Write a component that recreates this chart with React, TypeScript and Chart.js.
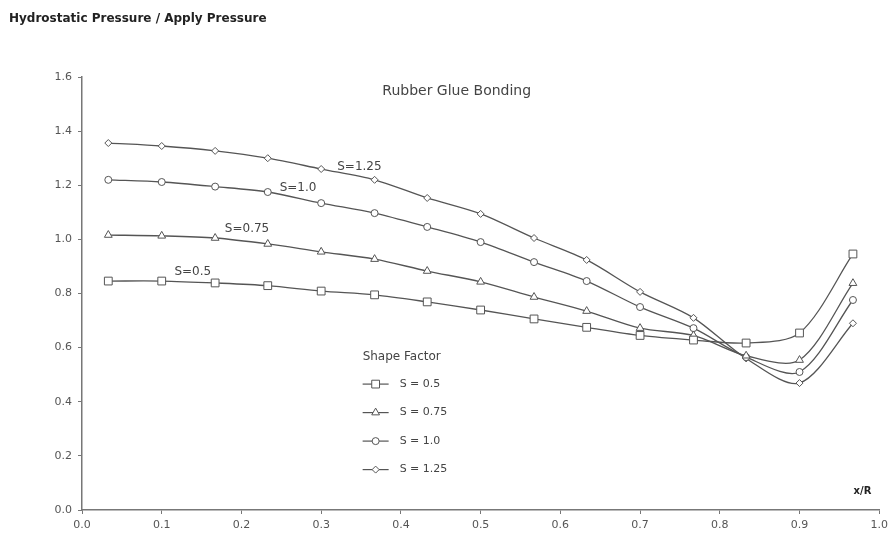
import React, { useEffect, useRef } from 'react';
import { Chart, registerables } from 'chart.js';

Chart.register(...registerables);

// ---- data ----
const xValues = [0.033, 0.1, 0.167, 0.233, 0.3, 0.367, 0.433, 0.5, 0.567, 0.633, 0.7, 0.767, 0.833, 0.9, 0.967];
const s05 = [0.846, 0.846, 0.839, 0.829, 0.809, 0.795, 0.769, 0.739, 0.706, 0.675, 0.645, 0.628, 0.617, 0.654, 0.946];
const s075 = [1.016, 1.013, 1.005, 0.983, 0.954, 0.927, 0.883, 0.843, 0.787, 0.735, 0.672, 0.645, 0.57, 0.554, 0.838];
const s10 = [1.22, 1.212, 1.195, 1.175, 1.134, 1.097, 1.046, 0.99, 0.916, 0.846, 0.75, 0.672, 0.565, 0.51, 0.776];
const s125 = [1.356, 1.345, 1.327, 1.3, 1.26, 1.22, 1.153, 1.094, 1.005, 0.924, 0.806, 0.71, 0.56, 0.469, 0.69];

const legendLabels = ['S = 0.5', 'S = 0.75', 'S = 1.0', 'S = 1.25'];
const curveLabels = ['S=0.5', 'S=0.75', 'S=1.0', 'S=1.25'];
const chartTitle = 'Hydrostatic Pressure / Apply Pressure';
const subTitle = 'Rubber Glue Bonding';
const legendTitle = 'Shape Factor';
const xAxisLabel = 'x/R';

// ---- layout / style (not data) ----
const curveLabelPos = [
  [0.139, 0.88],
  [0.207, 1.038],
  [0.271, 1.19],
  [0.348, 1.268],
];
const pointStyles = ['rect', 'triangle', 'circle', 'rectRot'];
const pointRadii = [5.5, 4.5, 3.5, 3.5];
const LINE = '#555555';
const TEXT = '#444444';
const FONT = '"DejaVu Sans", Verdana, sans-serif';

function toPoints(ys: number[]) {
  return xValues.map((x, i) => ({ x, y: ys[i] }));
}

function drawMarker(ctx: CanvasRenderingContext2D, style: string, x: number, y: number, r: number) {
  ctx.beginPath();
  if (style === 'rect') {
    const s = Math.SQRT1_2 * r;
    ctx.rect(x - s, y - s, 2 * s, 2 * s);
  } else if (style === 'triangle') {
    ctx.moveTo(x, y - r);
    ctx.lineTo(x + r * 0.866, y + r * 0.5);
    ctx.lineTo(x - r * 0.866, y + r * 0.5);
    ctx.closePath();
  } else if (style === 'rectRot') {
    ctx.moveTo(x, y - r);
    ctx.lineTo(x + r, y);
    ctx.lineTo(x, y + r);
    ctx.lineTo(x - r, y);
    ctx.closePath();
  } else {
    ctx.arc(x, y, r, 0, Math.PI * 2);
  }
  ctx.fillStyle = '#ffffff';
  ctx.fill();
  ctx.strokeStyle = LINE;
  ctx.lineWidth = 1;
  ctx.stroke();
}

const textPlugin = {
  id: 'textPlugin',
  afterDraw(chart: any) {
    const ctx: CanvasRenderingContext2D = chart.ctx;
    const xs = chart.scales.x;
    const ys = chart.scales.y;
    ctx.save();
    // main title
    ctx.fillStyle = '#222';
    ctx.font = `bold 12px ${FONT}`;
    ctx.textAlign = 'left';
    ctx.textBaseline = 'middle';
    ctx.fillText(chartTitle, 9, 19);

    // subtitle
    ctx.fillStyle = TEXT;
    ctx.font = `14px ${FONT}`;
    ctx.textAlign = 'center';
    ctx.fillText(subTitle, xs.getPixelForValue(0.47), ys.getPixelForValue(1.548));

    // curve labels
    ctx.font = `12px ${FONT}`;
    curveLabels.forEach((t, i) => {
      ctx.fillText(t, xs.getPixelForValue(curveLabelPos[i][0]), ys.getPixelForValue(curveLabelPos[i][1]));
    });

    // x axis label
    ctx.font = `bold 10px ${FONT}`;
    ctx.fillStyle = '#222';
    ctx.fillText(xAxisLabel, xs.getPixelForValue(0.979), ys.getPixelForValue(0.067));

    // legend
    const lx = xs.getPixelForValue(0.352);
    const ly = ys.getPixelForValue(0.565);
    ctx.fillStyle = TEXT;
    ctx.font = `12px ${FONT}`;
    ctx.textAlign = 'left';
    ctx.fillText(legendTitle, lx, ly);
    legendLabels.forEach((t, i) => {
      const ry = ly + 27 + i * 28.5;
      ctx.beginPath();
      ctx.moveTo(lx, ry);
      ctx.lineTo(lx + 26, ry);
      ctx.strokeStyle = LINE;
      ctx.lineWidth = 1.2;
      ctx.stroke();
      drawMarker(ctx, pointStyles[i], lx + 13, ry, pointRadii[i]);
      ctx.fillStyle = TEXT;
      ctx.font = `11px ${FONT}`;
      ctx.fillText(t, lx + 37, ry);
    });
    ctx.restore();
  },
};

export default function App() {
  const ref = useRef<HTMLCanvasElement | null>(null);
  useEffect(() => {
    if (!ref.current) return;
    const series = [s05, s075, s10, s125];
    const chart = new Chart(ref.current, {
      type: 'line',
      data: {
        datasets: series.map((ys, i) => ({
          label: legendLabels[i],
          data: toPoints(ys),
          borderColor: LINE,
          borderWidth: 1.3,
          backgroundColor: '#ffffff',
          pointStyle: pointStyles[i] as any,
          pointRadius: pointRadii[i],
          pointBorderColor: LINE,
          pointBackgroundColor: '#ffffff',
          pointBorderWidth: 1,
          tension: 0.3,
          fill: false,
        })),
      },
      options: {
        animation: false,
        responsive: false,
        events: [],
        layout: { padding: { top: 77, right: 13, left: 0, bottom: 0 } },
        plugins: { legend: { display: false }, tooltip: { enabled: false }, title: { display: false } },
        scales: {
          x: {
            type: 'linear',
            min: 0,
            max: 1,
            afterFit: (s: any) => { s.height = 28; },
            ticks: {
              stepSize: 0.1,
              callback: (v: any) => Number(v).toFixed(1),
              color: '#555',
              font: { family: FONT, size: 11 },
              padding: 5,
              maxRotation: 0,
              autoSkip: false,
            },
            grid: { display: true, drawOnChartArea: false, drawTicks: true, tickLength: 4, color: '#777' },
            border: { color: '#777', width: 1.5 },
          },
          y: {
            type: 'linear',
            min: 0,
            max: 1.6,
            afterFit: (s: any) => { s.width = 82; },
            ticks: {
              stepSize: 0.2,
              callback: (v: any) => Number(v).toFixed(1),
              color: '#555',
              font: { family: FONT, size: 11 },
              padding: 6,
            },
            grid: { display: true, drawOnChartArea: false, drawTicks: true, tickLength: 4, color: '#777' },
            border: { color: '#777', width: 1.5 },
          },
        },
      },
      plugins: [textPlugin],
    });
    return () => chart.destroy();
  }, []);
  return (
    <div style={{ position: 'absolute', left: 0, top: 0, width: 893, height: 538, background: '#fff' }}>
      <canvas ref={ref} width={893} height={538} style={{ display: 'block' }} />
    </div>
  );
}
